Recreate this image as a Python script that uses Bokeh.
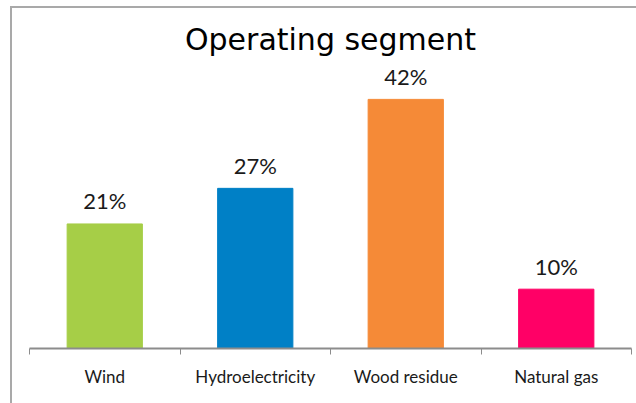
from bokeh.plotting import figure
from bokeh.models import (ColumnDataSource, Range1d, LinearAxis, FixedTicker, Label, InlineStyleSheet)
from bokeh.core.properties import value
from bokeh.embed import file_html
from bokeh.resources import INLINE

categories = ["Wind", "Hydroelectricity", "Wood residue", "Natural gas"]
shares = [21, 27, 42, 10]
share_labels = ["21%", "27%", "42%", "10%"]
colors = ["#A6CE47", "#0080C6", "#F58A37", "#FF0066"]
title_text = "Operating segment"

n = len(categories)
centers = [i + 0.5 for i in range(n)]
src = ColumnDataSource(dict(x=centers, val=shares, lab=share_labels, col=colors))

p = figure(width=636, height=403, output_backend="svg", toolbar_location=None,
           x_range=Range1d(0, n), y_range=Range1d(0, 55.3),
           x_axis_location=None, y_axis_location=None,
           min_border_left=29, min_border_right=5, min_border_top=20, min_border_bottom=55)
p.outline_line_color = None
p.grid.visible = False
p.background_fill_color = "white"
p.border_fill_color = "white"

p.vbar(x="x", top="val", width=0.5, color="col", source=src)
p.text(x="x", y="val", text="lab", source=src, text_align="center", text_baseline="alphabetic",
       y_offset=-23, text_font=value("Lato"), text_font_size="22px", text_color="#1a1a1a")

xaxis = LinearAxis(ticker=FixedTicker(ticks=centers, minor_ticks=list(range(n + 1))),
                   axis_line_color="#8c8c8c", axis_line_width=2,
                   major_tick_line_color=None, major_tick_in=0, major_tick_out=0,
                   minor_tick_line_color="#8c8c8c", minor_tick_line_width=1,
                   minor_tick_in=0, minor_tick_out=6,
                   major_label_overrides={c: name for c, name in zip(centers, categories)},
                   major_label_text_font="Lato", major_label_text_font_size="17px",
                   major_label_text_color="#1a1a1a", major_label_standoff=11)
p.add_layout(xaxis, "below")

p.add_layout(Label(x=n / 2, y=52.1, text=title_text, text_align="center", text_baseline="alphabetic",
                   text_font="DejaVu Sans", text_font_size="30px", text_color="#000000"))

p.stylesheets.append(InlineStyleSheet(css="""
:host::before {
  content: "";
  position: absolute;
  left: 10px; top: 6px;
  width: 626px; height: 397px;
  box-sizing: border-box;
  border-left: 2px solid #a9a9a9;
  border-top: 2px solid #a9a9a9;
  pointer-events: none;
  z-index: 10;
}
"""))

open("out.html", "w").write(file_html(p, INLINE))
